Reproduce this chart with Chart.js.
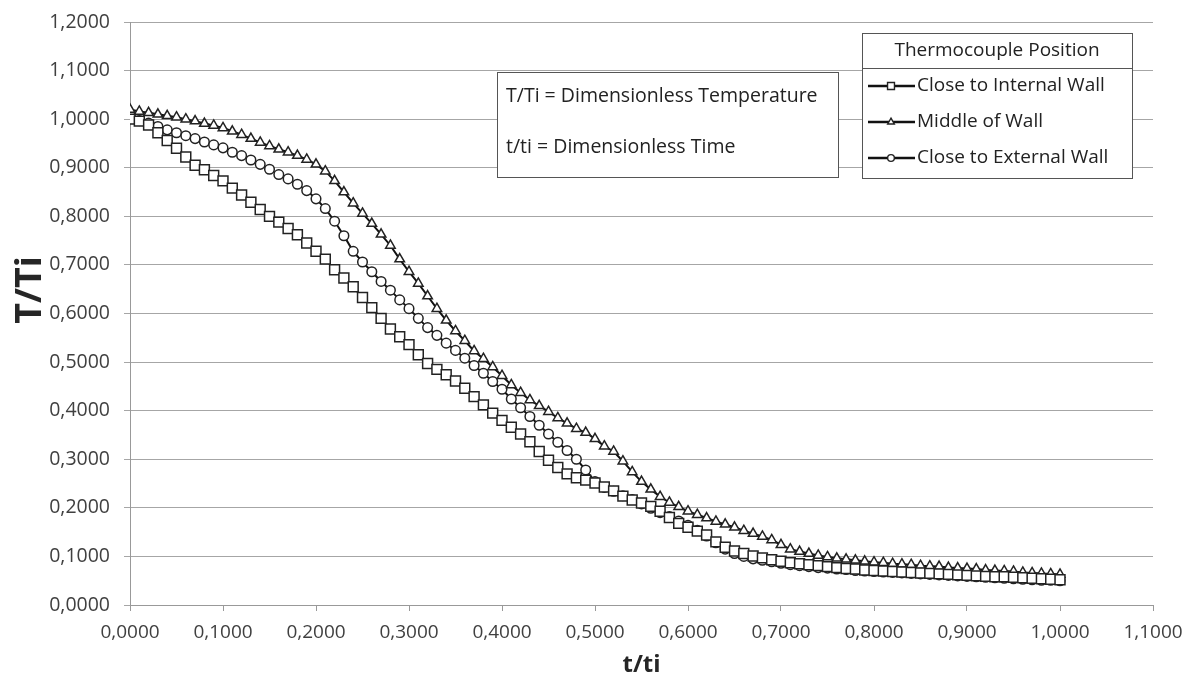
<!DOCTYPE html>
<html>
<head>
<meta charset="utf-8">
<title>T/Ti vs t/ti</title>
<script src="https://cdn.jsdelivr.net/npm/chart.js@4.4.1/dist/chart.umd.min.js"></script>
<style>
  html, body { margin: 0; padding: 0; background: #fff; }
  #wrap { width: 1195px; height: 684px; }
</style>
</head>
<body>
<div id="wrap"><canvas id="myChart" width="1195" height="684"></canvas></div>
<script>
// dimensionless time t/ti
const tValues = [
  0.00, 0.01, 0.02, 0.03, 0.04, 0.05, 0.06, 0.07, 0.08, 0.09,
  0.10, 0.11, 0.12, 0.13, 0.14, 0.15, 0.16, 0.17, 0.18, 0.19,
  0.20, 0.21, 0.22, 0.23, 0.24, 0.25, 0.26, 0.27, 0.28, 0.29,
  0.30, 0.31, 0.32, 0.33, 0.34, 0.35, 0.36, 0.37, 0.38, 0.39,
  0.40, 0.41, 0.42, 0.43, 0.44, 0.45, 0.46, 0.47, 0.48, 0.49,
  0.50, 0.51, 0.52, 0.53, 0.54, 0.55, 0.56, 0.57, 0.58, 0.59,
  0.60, 0.61, 0.62, 0.63, 0.64, 0.65, 0.66, 0.67, 0.68, 0.69,
  0.70, 0.71, 0.72, 0.73, 0.74, 0.75, 0.76, 0.77, 0.78, 0.79,
  0.80, 0.81, 0.82, 0.83, 0.84, 0.85, 0.86, 0.87, 0.88, 0.89,
  0.90, 0.91, 0.92, 0.93, 0.94, 0.95, 0.96, 0.97, 0.98, 0.99,
  1.00
];

// T/Ti, close to internal wall (squares)
const internalWall = [
  1.000, 0.996, 0.988, 0.972, 0.956, 0.940, 0.922, 0.905, 0.896, 0.884,
  0.873, 0.858, 0.844, 0.829, 0.814, 0.800, 0.788, 0.775, 0.762, 0.745,
  0.728, 0.712, 0.690, 0.673, 0.655, 0.633, 0.612, 0.590, 0.568, 0.552,
  0.536, 0.515, 0.497, 0.485, 0.474, 0.461, 0.446, 0.429, 0.412, 0.395,
  0.380, 0.366, 0.352, 0.336, 0.316, 0.298, 0.283, 0.270, 0.262, 0.257,
  0.251, 0.243, 0.235, 0.224, 0.216, 0.210, 0.203, 0.193, 0.180, 0.168,
  0.160, 0.152, 0.144, 0.130, 0.119, 0.111, 0.106, 0.101, 0.097, 0.093,
  0.090, 0.087, 0.085, 0.083, 0.081, 0.079, 0.077, 0.075, 0.074, 0.072,
  0.071, 0.070, 0.069, 0.068, 0.067, 0.066, 0.065, 0.064, 0.063, 0.062,
  0.061, 0.060, 0.059, 0.058, 0.058, 0.057, 0.056, 0.055, 0.054, 0.053,
  0.052
];

// T/Ti, middle of wall (triangles)
const middleWall = [
  1.020, 1.016, 1.013, 1.010, 1.007, 1.004, 1.000, 0.996, 0.991, 0.987,
  0.982, 0.975, 0.968, 0.960, 0.952, 0.945, 0.938, 0.932, 0.925, 0.917,
  0.907, 0.893, 0.873, 0.850, 0.827, 0.806, 0.785, 0.763, 0.740, 0.712,
  0.686, 0.662, 0.636, 0.610, 0.586, 0.564, 0.544, 0.523, 0.507, 0.490,
  0.472, 0.453, 0.437, 0.422, 0.410, 0.398, 0.385, 0.374, 0.363, 0.355,
  0.342, 0.327, 0.316, 0.296, 0.274, 0.254, 0.238, 0.223, 0.211, 0.202,
  0.193, 0.186, 0.179, 0.172, 0.166, 0.160, 0.153, 0.147, 0.141, 0.134,
  0.124, 0.115, 0.110, 0.106, 0.102, 0.099, 0.096, 0.094, 0.092, 0.090,
  0.088, 0.087, 0.085, 0.084, 0.083, 0.081, 0.080, 0.079, 0.077, 0.076,
  0.075, 0.074, 0.072, 0.071, 0.070, 0.069, 0.067, 0.066, 0.065, 0.064,
  0.063
];

// T/Ti, close to external wall (circles)
const externalWall = [
  1.008, 0.997, 0.992, 0.985, 0.978, 0.972, 0.966, 0.960, 0.953, 0.947,
  0.941, 0.932, 0.925, 0.916, 0.907, 0.897, 0.886, 0.877, 0.866, 0.853,
  0.836, 0.816, 0.790, 0.760, 0.728, 0.706, 0.686, 0.666, 0.648, 0.628,
  0.610, 0.590, 0.571, 0.555, 0.539, 0.524, 0.508, 0.493, 0.477, 0.460,
  0.444, 0.424, 0.406, 0.388, 0.370, 0.352, 0.335, 0.318, 0.300, 0.278,
  0.254, 0.242, 0.234, 0.225, 0.217, 0.208, 0.199, 0.190, 0.182, 0.173,
  0.164, 0.154, 0.142, 0.128, 0.115, 0.106, 0.100, 0.095, 0.092, 0.089,
  0.086, 0.083, 0.081, 0.079, 0.077, 0.076, 0.074, 0.073, 0.071, 0.070,
  0.069, 0.068, 0.067, 0.066, 0.065, 0.064, 0.063, 0.062, 0.061, 0.060,
  0.059, 0.058, 0.057, 0.056, 0.055, 0.054, 0.053, 0.052, 0.051, 0.051,
  0.050
];

const seriesLabels = ['Close to Internal Wall', 'Middle of Wall', 'Close to External Wall'];
const legendTitle = 'Thermocouple Position';
const noteLines = ['T/Ti = Dimensionless Temperature', 't/ti = Dimensionless Time'];
const yTitle = 'T/Ti';
const xTitle = 't/ti';

const FONT = '"Open Sans", "DejaVu Sans", sans-serif';

function pairs(ys) {
  return ys.map((y, i) => ({ x: tValues[i], y: y }));
}

function fmt(v) {
  return Number(v).toFixed(4).replace('.', ',');
}

function series(label, ys, style, radius) {
  return {
    label: label,
    data: pairs(ys),
    borderColor: '#111',
    borderWidth: 2,
    backgroundColor: '#fff',
    pointStyle: style,
    pointRadius: radius,
    pointBorderWidth: 1.5,
    pointBorderColor: '#222',
    pointBackgroundColor: '#fff',
    tension: 0
  };
}

// boxes drawn on top of the plot: legend with title, the note box, y title
const boxes = {
  id: 'boxes',
  afterDraw(chart) {
    const ctx = chart.ctx;
    ctx.save();

    // y axis title
    ctx.save();
    ctx.translate(31, 290);
    ctx.rotate(-Math.PI / 2);
    ctx.fillStyle = '#262626';
    ctx.font = 'bold 36px ' + FONT;
    ctx.textAlign = 'center';
    ctx.textBaseline = 'middle';
    ctx.fillText(yTitle, 0, 0);
    ctx.restore();

    // note box
    ctx.fillStyle = '#fff';
    ctx.fillRect(497, 72, 341, 105);
    ctx.strokeStyle = '#555';
    ctx.lineWidth = 1;
    ctx.strokeRect(497.5, 72.5, 341, 105);
    ctx.fillStyle = '#222';
    ctx.font = '19.5px ' + FONT;
    ctx.textBaseline = 'middle';
    ctx.textAlign = 'left';
    ctx.fillText(noteLines[0], 506, 96, 326);
    ctx.fillText(noteLines[1], 506, 147, 326);

    // legend
    ctx.fillStyle = '#fff';
    ctx.fillRect(862, 33, 270, 145);
    ctx.strokeStyle = '#555';
    ctx.strokeRect(862.5, 33.5, 270, 145);
    ctx.beginPath();
    ctx.moveTo(862, 68.5);
    ctx.lineTo(1133, 68.5);
    ctx.stroke();
    ctx.fillStyle = '#222';
    ctx.font = '19px ' + FONT;
    ctx.textAlign = 'center';
    ctx.fillText(legendTitle, 997, 51, 255);

    const rows = [86, 122, 158];
    chart.data.datasets.forEach((ds, i) => {
      const y = rows[i];
      ctx.strokeStyle = '#111';
      ctx.lineWidth = 2.5;
      ctx.beginPath();
      ctx.moveTo(868, y);
      ctx.lineTo(915, y);
      ctx.stroke();
      ctx.lineWidth = 1.4;
      ctx.strokeStyle = '#222';
      ctx.fillStyle = '#fff';
      Chart.helpers.drawPoint(ctx, { pointStyle: ds.pointStyle, radius: ds.pointRadius * 0.7, borderWidth: 1.4 }, 891, y);
      ctx.fillStyle = '#222';
      ctx.textAlign = 'left';
      ctx.fillText(ds.label, 917, y, 212);
    });

    ctx.restore();
  }
};

const data = {
  datasets: [
    series(seriesLabels[0], internalWall, 'rect', 7),
    series(seriesLabels[1], middleWall, 'triangle', 5.5),
    series(seriesLabels[2], externalWall, 'circle', 4.8)
  ]
};

const config = {
  type: 'line',
  data: data,
  options: {
    responsive: false,
    animation: false,
    devicePixelRatio: 1,
    layout: { padding: { top: 22, right: 42, bottom: 0, left: 0 } },
    plugins: {
      legend: { display: false },
      tooltip: { enabled: false }
    },
    scales: {
      x: {
        type: 'linear',
        min: 0,
        max: 1.1,
        ticks: {
          stepSize: 0.1,
          callback: fmt,
          color: '#404040',
          font: { family: FONT, size: 19 },
          padding: 10,
          maxRotation: 0
        },
        grid: {
          drawOnChartArea: false,
          drawTicks: true,
          tickLength: 6,
          color: '#999'
        },
        border: { color: '#999', width: 1 },
        title: {
          display: true,
          text: xTitle,
          color: '#262626',
          font: { family: FONT, size: 24, weight: 'bold' },
          padding: { top: 0, bottom: 4 }
        },
        afterFit(scale) { scale.height = 79; }
      },
      y: {
        min: 0,
        max: 1.2,
        ticks: {
          stepSize: 0.1,
          callback: fmt,
          color: '#404040',
          font: { family: FONT, size: 19.5 },
          padding: 14
        },
        grid: {
          color: '#a6a6a6',
          drawTicks: true,
          tickLength: 6
        },
        border: { color: '#999', width: 1 },
        title: { display: false },
        afterFit(scale) {
          scale.width = 130;
          scale.paddingTop = 0;
          scale.paddingBottom = 0;
        }
      }
    }
  },
  plugins: [boxes]
};

const myChart = new Chart(document.getElementById('myChart'), config);
</script>
</body>
</html>
